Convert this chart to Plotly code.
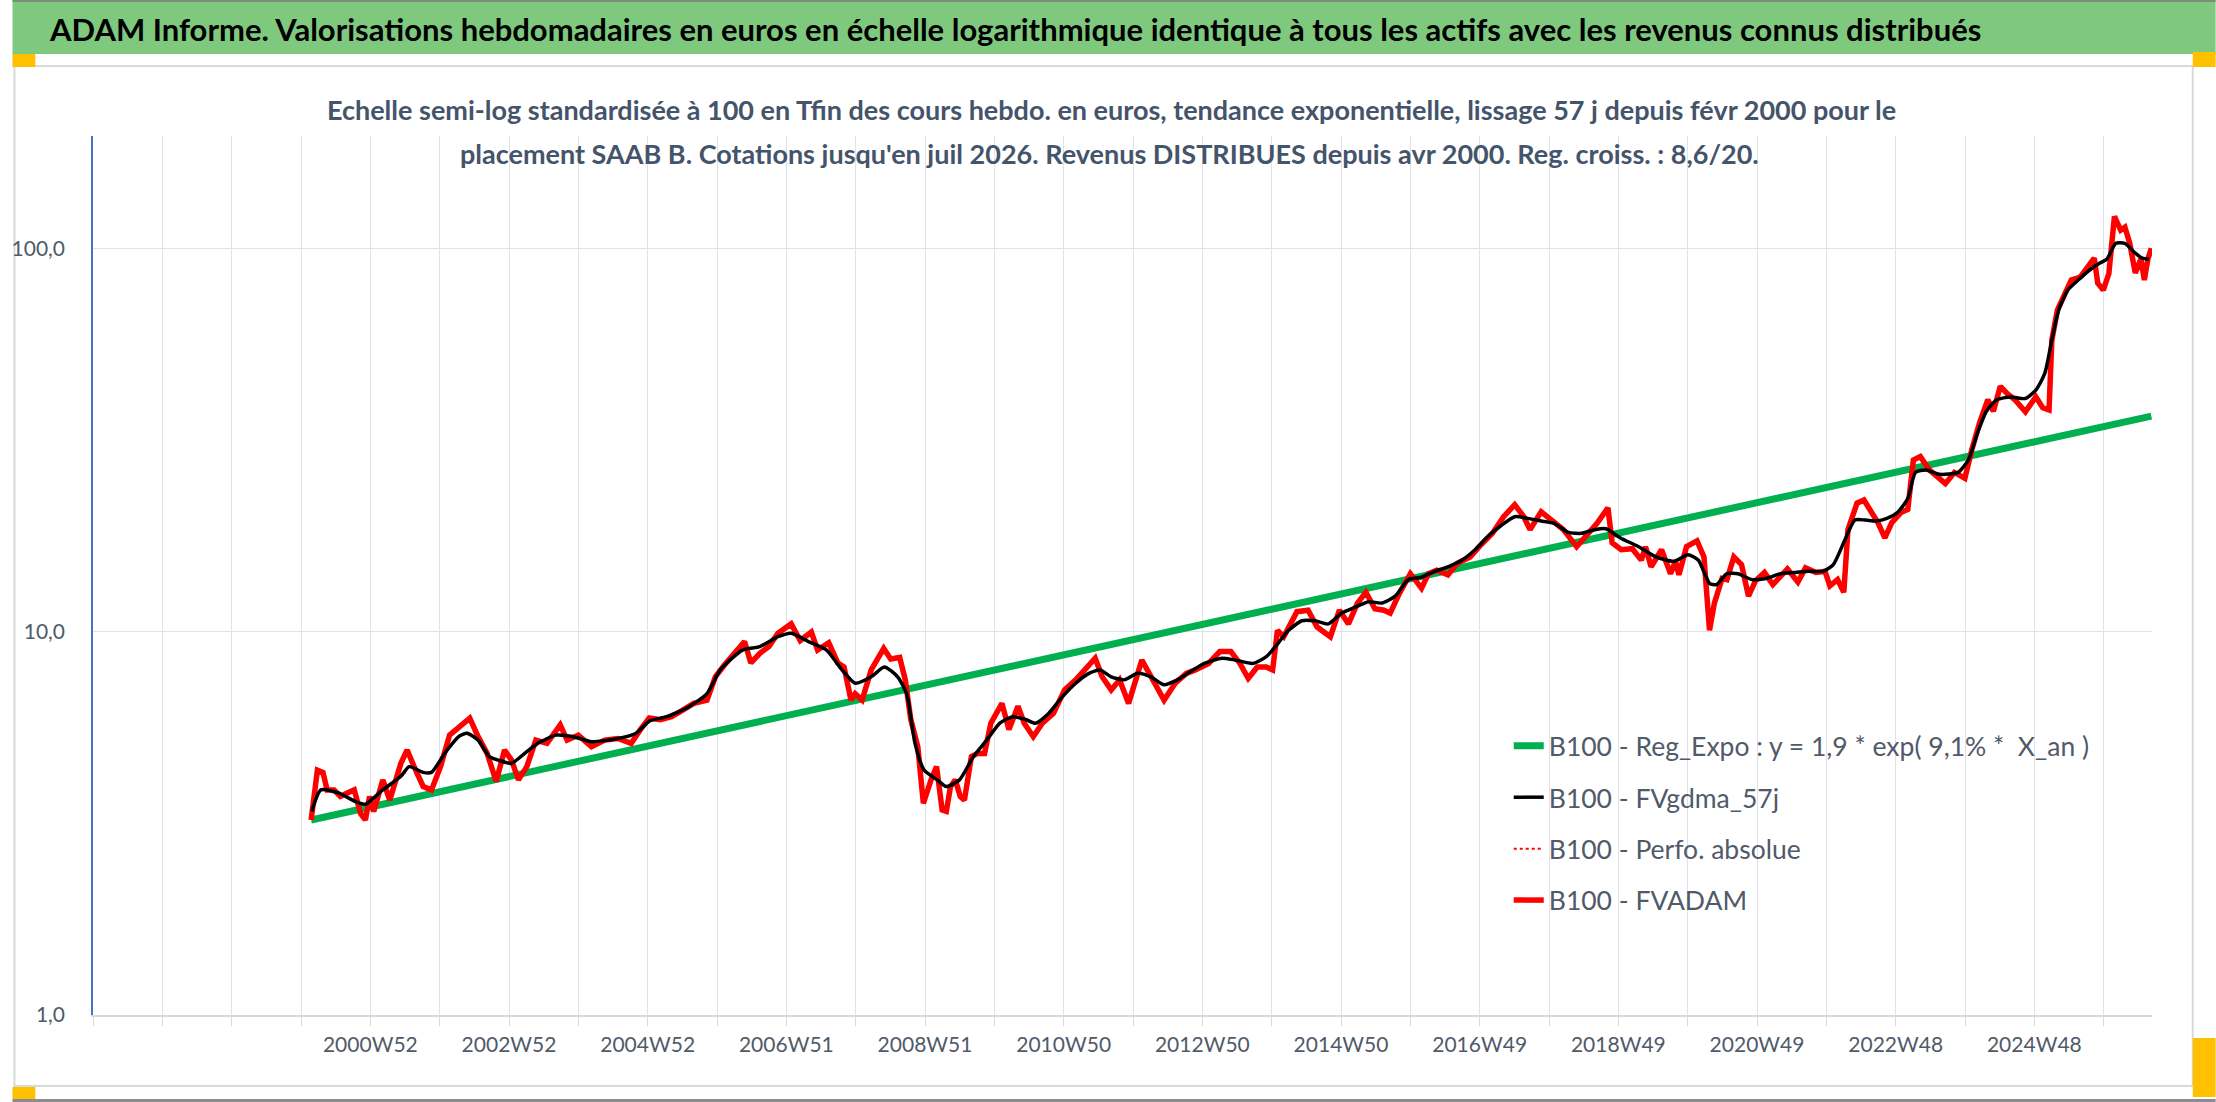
import plotly.graph_objects as go

# FVADAM weekly valuation (base 100 at end), decimal years
RED_X = [
    2000.13, 2000.22, 2000.30, 2000.36, 2000.46, 2000.55, 2000.65, 2000.75, 2000.84, 2000.91,
    2000.97, 2001.03, 2001.16, 2001.26, 2001.42, 2001.51, 2001.61, 2001.74, 2001.86, 2001.99,
    2002.12, 2002.25, 2002.41, 2002.53, 2002.66, 2002.79, 2002.91, 2003.01, 2003.11, 2003.23,
    2003.36, 2003.52, 2003.71, 2003.81, 2003.97, 2004.16, 2004.35, 2004.54, 2004.73, 2004.86,
    2004.99, 2005.15, 2005.31, 2005.43, 2005.63, 2005.82, 2005.94, 2006.07, 2006.23, 2006.36,
    2006.45, 2006.58, 2006.71, 2006.84, 2007.03, 2007.16, 2007.32, 2007.41, 2007.57, 2007.70,
    2007.79, 2007.89, 2007.95, 2008.05, 2008.18, 2008.36, 2008.46, 2008.59, 2008.67, 2008.75,
    2008.85, 2008.93, 2009.04, 2009.12, 2009.20, 2009.26, 2009.32, 2009.39, 2009.46, 2009.52,
    2009.62, 2009.71, 2009.81, 2009.90, 2010.06, 2010.16, 2010.29, 2010.38, 2010.51, 2010.64,
    2010.80, 2010.96, 2011.12, 2011.24, 2011.40, 2011.50, 2011.63, 2011.75, 2011.88, 2012.07,
    2012.20, 2012.39, 2012.55, 2012.71, 2012.84, 2013.03, 2013.19, 2013.35, 2013.48, 2013.60,
    2013.73, 2013.86, 2013.95, 2014.02, 2014.11, 2014.30, 2014.46, 2014.59, 2014.78, 2014.91,
    2015.04, 2015.17, 2015.29, 2015.42, 2015.55, 2015.64, 2015.77, 2015.93, 2016.09, 2016.19,
    2016.31, 2016.47, 2016.60, 2016.79, 2016.92, 2017.11, 2017.27, 2017.43, 2017.56, 2017.65,
    2017.81, 2017.97, 2018.13, 2018.32, 2018.48, 2018.61, 2018.77, 2018.83, 2018.96, 2019.12,
    2019.25, 2019.31, 2019.39, 2019.54, 2019.67, 2019.74, 2019.79, 2019.90, 2020.05, 2020.15,
    2020.23, 2020.30, 2020.41, 2020.48, 2020.58, 2020.69, 2020.79, 2020.89, 2021.02, 2021.14,
    2021.35, 2021.50, 2021.61, 2021.76, 2021.89, 2021.96, 2022.07, 2022.16, 2022.22, 2022.35,
    2022.45, 2022.55, 2022.65, 2022.75, 2022.85, 2022.98, 2023.08, 2023.16, 2023.26, 2023.39,
    2023.52, 2023.62, 2023.75, 2023.90, 2024.00, 2024.11, 2024.23, 2024.31, 2024.41, 2024.51,
    2024.62, 2024.77, 2024.92, 2025.02, 2025.11, 2025.15, 2025.23, 2025.33, 2025.43, 2025.56,
    2025.64, 2025.76, 2025.81, 2025.89, 2025.97, 2026.05, 2026.14, 2026.20, 2026.27, 2026.35,
    2026.43, 2026.48, 2026.53, 2026.58,
]
RED_Y = [
    3.23, 4.36, 4.30, 3.87, 3.87, 3.72, 3.80, 3.87, 3.36, 3.23,
    3.72, 3.40, 4.11, 3.64, 4.54, 4.92, 4.45, 3.95, 3.87, 4.45,
    5.38, 5.66, 5.96, 5.33, 4.82, 4.07, 4.92, 4.63, 4.11, 4.45,
    5.22, 5.12, 5.72, 5.22, 5.38, 5.02, 5.22, 5.27, 5.12, 5.55,
    5.96, 5.90, 6.01, 6.19, 6.51, 6.64, 7.64, 8.20, 8.89, 9.44,
    8.30, 8.80, 9.16, 9.93, 10.5, 9.50, 10.0, 8.97, 9.37, 8.30,
    8.10, 6.64, 6.90, 6.64, 7.96, 9.06, 8.50, 8.58, 7.50, 5.90,
    5.02, 3.57, 4.11, 4.45, 3.43, 3.40, 3.95, 4.11, 3.72, 3.64,
    4.73, 4.82, 4.82, 5.78, 6.51, 5.56, 6.40, 5.78, 5.33, 5.78,
    6.13, 7.06, 7.50, 7.96, 8.54, 7.64, 7.06, 7.50, 6.51, 8.45,
    7.64, 6.64, 7.35, 7.80, 7.96, 8.28, 8.89, 8.89, 8.28, 7.57,
    8.10, 8.10, 7.96, 10.1, 9.72, 11.3, 11.4, 10.3, 9.72, 11.4,
    10.5, 11.9, 12.7, 11.5, 11.4, 11.2, 12.6, 14.2, 13.0, 14.2,
    14.5, 14.1, 15.1, 15.7, 16.7, 18.1, 20.0, 21.5, 20.0, 18.5,
    20.6, 19.5, 18.5, 16.7, 18.1, 19.2, 21.1, 17.1, 16.4, 16.5,
    15.4, 16.7, 14.8, 16.4, 14.2, 15.3, 14.1, 16.7, 17.3, 15.7,
    10.1, 11.9, 13.8, 13.7, 15.7, 15.0, 12.4, 13.6, 14.3, 13.3,
    14.6, 13.5, 14.7, 14.3, 14.4, 13.2, 13.7, 12.7, 18.5, 21.7,
    22.1, 20.5, 19.3, 17.6, 19.3, 20.5, 20.9, 28.1, 28.7, 26.5,
    25.3, 24.4, 26.1, 25.2, 29.9, 35.1, 40.4, 37.7, 43.8, 41.9,
    40.4, 37.6, 41.1, 38.5, 38.0, 57.8, 69.3, 76.5, 83.0, 84.5,
    88.1, 94.6, 81.4, 78.1, 86.3, 121.6, 112.0, 114.0, 103.5, 86.5,
    94.2, 83.0, 94.0, 100.4,
]

# FVgdma_57j smoothed curve
BLACK_X = [
    2000.14, 2000.27, 2000.52, 2000.78, 2000.91, 2001.16, 2001.42, 2001.54, 2001.74, 2001.86,
    2002.05, 2002.25, 2002.37, 2002.53, 2002.69, 2002.82, 2003.01, 2003.20, 2003.39, 2003.65,
    2003.90, 2004.16, 2004.54, 2004.80, 2004.99, 2005.24, 2005.56, 2005.82, 2006.01, 2006.33,
    2006.58, 2006.84, 2007.03, 2007.28, 2007.54, 2007.76, 2007.95, 2008.18, 2008.37, 2008.56,
    2008.69, 2008.81, 2008.94, 2009.13, 2009.26, 2009.45, 2009.65, 2009.84, 2010.03, 2010.22,
    2010.41, 2010.54, 2010.73, 2010.93, 2011.12, 2011.31, 2011.47, 2011.63, 2011.82, 2012.01,
    2012.20, 2012.39, 2012.58, 2012.77, 2012.97, 2013.22, 2013.41, 2013.67, 2013.86, 2013.99,
    2014.18, 2014.37, 2014.56, 2014.75, 2014.94, 2015.13, 2015.33, 2015.52, 2015.71, 2015.90,
    2016.09, 2016.28, 2016.47, 2016.67, 2016.86, 2017.05, 2017.24, 2017.43, 2017.62, 2017.81,
    2018.00, 2018.20, 2018.39, 2018.58, 2018.74, 2018.95, 2019.21, 2019.46, 2019.72, 2019.92,
    2020.07, 2020.23, 2020.33, 2020.48, 2020.64, 2020.84, 2021.04, 2021.25, 2021.45, 2021.66,
    2021.86, 2022.01, 2022.17, 2022.32, 2022.47, 2022.63, 2022.78, 2022.93, 2023.08, 2023.19,
    2023.34, 2023.54, 2023.80, 2023.95, 2024.08, 2024.21, 2024.36, 2024.56, 2024.77, 2024.92,
    2025.05, 2025.15, 2025.25, 2025.38, 2025.53, 2025.69, 2025.84, 2025.94, 2026.07, 2026.20,
    2026.35, 2026.45, 2026.55,
]
BLACK_Y = [
    3.40, 3.87, 3.80, 3.60, 3.55, 3.87, 4.20, 4.45, 4.30, 4.30,
    4.82, 5.33, 5.44, 5.22, 4.73, 4.63, 4.54, 4.82, 5.12, 5.38,
    5.33, 5.17, 5.27, 5.44, 5.85, 6.01, 6.38, 6.90, 7.96, 8.97,
    9.16, 9.72, 9.93, 9.44, 8.97, 7.96, 7.35, 7.64, 8.10, 7.64,
    6.90, 5.12, 4.36, 4.11, 3.95, 4.11, 4.73, 5.22, 5.78, 6.01,
    5.90, 5.78, 6.13, 6.78, 7.35, 7.80, 7.96, 7.64, 7.50, 7.80,
    7.64, 7.28, 7.50, 7.88, 8.28, 8.54, 8.45, 8.28, 8.62, 9.16,
    10.1, 10.7, 10.7, 10.5, 11.2, 11.6, 12.0, 11.9, 12.4, 13.7,
    13.9, 14.4, 14.8, 15.4, 16.4, 17.8, 19.0, 20.0, 19.8, 19.5,
    19.2, 18.2, 18.1, 18.5, 18.6, 17.6, 16.7, 15.7, 15.3, 15.9,
    15.4, 13.4, 13.3, 14.2, 14.2, 13.7, 13.8, 14.2, 14.3, 14.4,
    14.4, 15.0, 17.3, 19.6, 19.6, 19.5, 19.8, 20.5, 22.3, 26.1,
    26.5, 25.8, 26.1, 28.1, 33.0, 37.7, 40.4, 41.1, 40.7, 42.8,
    47.4, 57.8, 69.3, 78.1, 83.0, 88.0, 91.9, 94.0, 103.5, 103.5,
    97.5, 94.6, 94.0,
]

# Reg_Expo trend: straight on the log scale, drawn between its two ends
TREND_X = [2000.13, 2026.58]
TREND_Y = [3.23, 36.6]

TICK_LABELS = [
    "2000W52", "2002W52", "2004W52", "2006W51", "2008W51", "2010W50", "2012W50",
    "2014W50", "2016W49", "2018W49", "2020W49", "2022W48", "2024W48",
]
Y_TICKS = [1, 10, 100]
Y_LABELS = ["1,0", "10,0", "100,0"]

W, H = 2216, 1102
L, R, T, B = 81, 64, 136, 87
PW, PH = W - L - R, H - T - B

FONT = "Lato, Carlito, sans-serif"
TXT = "#505a69"


def px(x):
    return (x - L) / PW


def py(y):
    return (H - B - y) / PH


# one gridline every 52 weeks, a label every 104 weeks
step = 364 / 365.25
tick_x = [2000.981 + k * step for k in range(-4, 26)]
tick_txt = []
for k in range(-4, 26):
    tick_txt.append(TICK_LABELS[k // 2] if k >= 0 and k % 2 == 0 else "")

fig = go.Figure()

fig.add_trace(go.Scatter(
    x=TREND_X, y=TREND_Y, mode="lines",
    name="B100 - Reg_Expo : y = 1,9 * exp( 9,1% *  X_an )",
    line=dict(color="#00B050", width=7),
    legendgroup="a", legendrank=1,
))
fig.add_trace(go.Scatter(
    x=RED_X, y=RED_Y, mode="lines",
    name="B100 - Perfo. absolue",
    line=dict(color="#FF0000", width=2, dash="dot"),
    legendgroup="c", legendrank=3,
))
fig.add_trace(go.Scatter(
    x=RED_X, y=RED_Y, mode="lines",
    name="B100 - FVADAM",
    line=dict(color="#FF0000", width=5.5),
    legendgroup="d", legendrank=4,
))
fig.add_trace(go.Scatter(
    x=BLACK_X, y=BLACK_Y, mode="lines",
    name="B100 - FVgdma_57j",
    line=dict(color="#000000", width=3.5, shape="spline", smoothing=0.6),
    legendgroup="b", legendrank=2,
))

shapes = [
    # outer chart frame
    dict(type="rect", xref="paper", yref="paper",
         x0=px(2), x1=px(2193), y0=py(1086), y1=py(66),
         line=dict(color="#D9D9D9", width=2), fillcolor="rgba(0,0,0,0)", layer="below"),
    # green title band
    dict(type="rect", xref="paper", yref="paper",
         x0=px(0), x1=px(W), y0=py(54), y1=py(0),
         line=dict(width=0), fillcolor="#7FC97F", layer="below"),
    dict(type="rect", xref="paper", yref="paper",
         x0=px(0), x1=px(W), y0=py(2), y1=py(0),
         line=dict(width=0), fillcolor="#7a8f7a", layer="below"),
    # selection handles
    dict(type="rect", xref="paper", yref="paper",
         x0=px(0), x1=px(23), y0=py(67), y1=py(54),
         line=dict(width=0), fillcolor="#FFC000"),
    dict(type="rect", xref="paper", yref="paper",
         x0=px(2193), x1=px(W), y0=py(67), y1=py(52),
         line=dict(width=0), fillcolor="#FFC000"),
    dict(type="rect", xref="paper", yref="paper",
         x0=px(0), x1=px(23), y0=py(1099), y1=py(1087),
         line=dict(width=0), fillcolor="#FFC000"),
    dict(type="rect", xref="paper", yref="paper",
         x0=px(2193), x1=px(W), y0=py(1097), y1=py(1038),
         line=dict(width=0), fillcolor="#FFC000"),
    dict(type="rect", xref="paper", yref="paper",
         x0=px(0), x1=px(W), y0=py(H), y1=py(1099),
         line=dict(width=0), fillcolor="#8c8c8c"),
]

annotations = [
    dict(text="<b>ADAM Informe. Valorisations hebdomadaires en euros en échelle logarithmique "
              "identique à tous les actifs avec les revenus connus distribués</b>",
         xref="paper", yref="paper", x=px(35), y=py(29),
         xanchor="left", yanchor="middle", showarrow=False,
         font=dict(family=FONT, size=31, color="#000000")),
    dict(text="<b>Echelle semi-log standardisée à 100 en Tfin des cours hebdo. en euros, "
              "tendance exponentielle, lissage 57 j depuis févr 2000 pour le</b>",
         xref="paper", yref="paper", x=px(1105), y=py(110),
         xanchor="center", yanchor="middle", showarrow=False,
         font=dict(family=FONT, size=27, color="#44546A")),
    dict(text="<b>placement SAAB B. Cotations jusqu'en juil 2026. Revenus DISTRIBUES "
              "depuis avr 2000. Reg. croiss. : 8,6/20.</b>",
         xref="paper", yref="paper", x=px(1103), y=py(154),
         xanchor="center", yanchor="middle", showarrow=False,
         font=dict(family=FONT, size=27, color="#44546A")),
]

fig.update_layout(
    width=W, height=H, autosize=False,
    margin=dict(l=L, r=R, t=T, b=B, pad=0),
    paper_bgcolor="#FFFFFF", plot_bgcolor="#FFFFFF",
    font=dict(family=FONT, size=21, color=TXT),
    shapes=shapes,
    annotations=annotations,
    showlegend=True,
    legend=dict(
        x=px(1505), y=py(722), xanchor="left", yanchor="top",
        traceorder="grouped", tracegroupgap=14,
        bgcolor="rgba(255,255,255,0)", borderwidth=0,
        font=dict(family=FONT, size=26.5, color=TXT),
    ),
    xaxis=dict(
        range=[tick_x[0], 2026.59],
        tickmode="array", tickvals=tick_x, ticktext=tick_txt,
        showgrid=True, gridcolor="#DFE3E9", gridwidth=1.3,
        showline=True, linecolor="#D9D9D9", linewidth=2,
        ticks="outside", ticklen=9, tickcolor="#D9D9D9", tickwidth=1.3,
        tickangle=0, ticklabelstandoff=1,
        tickfont=dict(size=21),
        zeroline=False,
    ),
    yaxis=dict(
        type="log", range=[0, 2.295],
        tickmode="array", tickvals=Y_TICKS, ticktext=Y_LABELS,
        showgrid=True, gridcolor="#DFE3E9", gridwidth=1.3,
        showline=True, linecolor="#4472C4", linewidth=1.5,
        ticks="", ticklabelstandoff=22,
        tickfont=dict(size=21),
        zeroline=False,
    ),
)

fig.write_html("out.html", config={"displayModeBar": False},
               post_script="document.body.style.margin='0';")
